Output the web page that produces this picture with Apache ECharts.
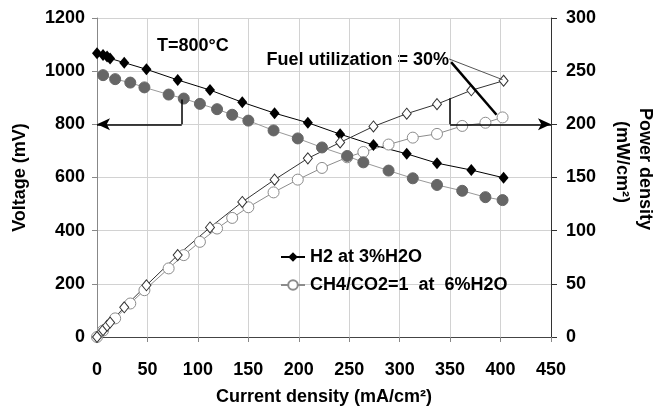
<!DOCTYPE html>
<html><head><meta charset="utf-8">
<script src="https://cdn.jsdelivr.net/npm/echarts@6/dist/echarts.min.js"></script>
<style>html,body{margin:0;padding:0;background:#fff}#c{width:654px;height:408px}</style>
</head><body><div id="c"></div>
<script>
// ---- data ----
const h2Current = [0,6,10,13,27,49,80,112,144,176,209,241,274,307,337,371,403];
const h2Voltage = [1067,1061,1055,1048,1032,1007,967,929,883,842,806,763,722,689,654,628,599];
const h2Power = [0,6.4,10.6,13.6,27.9,48.6,77,103,127,148,168,183,198,210,219,232,241];
const ch4VoltCurrent = [6,18,33,47,71,86,102,119,134,150,175,199,223,248,264,289,313,337,362,385,402];
const ch4Voltage = [985,970,957,939,912,897,877,857,836,814,777,747,713,681,657,626,597,572,550,526,515];
const ch4PowerCurrent = [0,6,18,33,47,71,86,102,119,134,150,175,199,223,248,264,289,313,337,362,385,402];
const ch4Power = [0,6,17.5,31.5,44,64.5,77,89.5,102,112,122,136,148,159,169,174,181,187.5,191,198.5,201.5,206.5];
const xTicks = [0,50,100,150,200,250,300,350,400,450];
const voltTicks = [0,200,400,600,800,1000,1200];
const powerTicks = [0,50,100,150,200,250,300];
const h2Name = 'H2 at 3%H2O';
const ch4Name = 'CH4/CO2=1  at  6%H2O';
// annotation anchors (data space)
const leftArrow = [[84,893],[84,800],[0,800]];        // current, voltage
const rightArrow = [[350,224.5],[350,200],[450,200]]; // current, power
const pointerThin = [[349,261.5],[402,242]];
const pointerThick = [[351,258.5],[396,209]];

const zip = (a,b) => a.map((v,i)=>[v,b[i]]);
const FONT = "'Liberation Sans', Arial, sans-serif";
const FS = 18;
const txt = {fontFamily:FONT, fontWeight:'bold', fontSize:FS, color:'#000'};
const plain = v => String(v);

const chart = echarts.init(document.getElementById('c'), null, {renderer:'canvas'});
chart.setOption({
  animation:false,
  backgroundColor:'#fff',
  grid:{left:97, right:103, top:18, bottom:71, containLabel:false, outerBoundsMode:'none'},
  legend:{
    orient:'vertical', left:275, top:243, itemWidth:24, itemHeight:12, itemGap:10,
    textStyle:Object.assign({}, txt),
    data:[ {name:h2Name}, {name:ch4Name} ]
  },
  xAxis:{
    type:'value', min:xTicks[0], max:xTicks[xTicks.length-1], interval:50,
    name:'Current density (mA/cm²)', nameLocation:'middle', nameGap:51,
    nameTextStyle:txt,
    axisLine:{lineStyle:{color:'#444', width:1}},
    axisTick:{show:true, length:5, lineStyle:{color:'#888'}},
    axisLabel:Object.assign({margin:24, formatter:plain}, txt),
    splitLine:{show:true, lineStyle:{color:'#d2d2d2', width:1}}
  },
  yAxis:[{
    type:'value', min:voltTicks[0], max:voltTicks[voltTicks.length-1], interval:200,
    name:'Voltage (mV)', nameLocation:'middle', nameGap:68, nameRotate:90,
    nameTextStyle:txt,
    axisLine:{show:true, lineStyle:{color:'#888'}},
    axisTick:{show:true, length:5, lineStyle:{color:'#888'}},
    axisLabel:Object.assign({margin:12, formatter:plain}, txt),
    splitLine:{show:true, lineStyle:{color:'#d2d2d2', width:1}}
  },{
    type:'value', min:powerTicks[0], max:powerTicks[powerTicks.length-1], interval:50,
    position:'right',
    axisLine:{show:true, lineStyle:{color:'#333'}},
    axisTick:{show:true, length:6, lineStyle:{color:'#333'}},
    axisLabel:Object.assign({margin:15, formatter:plain}, txt),
    splitLine:{show:false}
  }],
  graphic:[
    {type:'text', left:157, top:37, style:{text:'T=800°C', fill:'#000', font:"bold "+FS+"px "+FONT}},
    {type:'text', right:654-449, top:51, style:{text:'Fuel utilization = 30%', fill:'#000', font:"bold "+FS+"px "+FONT}},
    {type:'text', x:645, y:169, rotation:-Math.PI/2, style:{text:'Power density', fill:'#000', font:"bold "+FS+"px "+FONT, align:'center', verticalAlign:'middle'}},
    {type:'text', x:622, y:162, rotation:-Math.PI/2, style:{text:'(mW/cm²)', fill:'#000', font:"bold "+FS+"px "+FONT, align:'center', verticalAlign:'middle'}}
  ],
  series:[
    {
      name:h2Name, type:'line', yAxisIndex:0, data:zip(h2Current,h2Voltage),
      symbol:'diamond', symbolSize:[10,12], showAllSymbol:true,
      itemStyle:{color:'#000'}, lineStyle:{color:'#000', width:1}
    },
    {
      name:ch4Name, type:'line', yAxisIndex:1, data:zip(ch4PowerCurrent,ch4Power),
      symbol:'circle', symbolSize:11, showAllSymbol:true,
      itemStyle:{color:'#fff', borderColor:'#8c8c8c', borderWidth:1}, lineStyle:{color:'#8c8c8c', width:1}
    },
    {
      name:h2Name, type:'line', yAxisIndex:1, data:zip(h2Current,h2Power),
      symbol:'diamond', symbolSize:[9,11], showAllSymbol:true,
      itemStyle:{color:'#fff', borderColor:'#333', borderWidth:1}, lineStyle:{color:'#333', width:1},
      markLine:{
        silent:true, animation:false, label:{show:false}, symbol:['none','none'],
        lineStyle:{color:'#000', width:1.5, type:'solid'},
        emphasis:{disabled:true},
        data:[
          [{coord:rightArrow[0]},{coord:rightArrow[1]}],
          [{coord:rightArrow[1]},{coord:rightArrow[2], symbol:'arrow', symbolSize:[9,13]}],
          [{coord:pointerThin[0], lineStyle:{color:'#555', width:1}},{coord:pointerThin[1]}],
          [{coord:pointerThick[0], lineStyle:{color:'#000', width:2.5}},{coord:pointerThick[1]}]
        ]
      }
    },
    {
      name:ch4Name, type:'line', yAxisIndex:0, data:zip(ch4VoltCurrent,ch4Voltage),
      symbol:'circle', symbolSize:11, showAllSymbol:true,
      itemStyle:{color:'#666', borderColor:'#666'}, lineStyle:{color:'#999', width:1},
      markLine:{
        silent:true, animation:false, label:{show:false}, symbol:['none','none'],
        lineStyle:{color:'#000', width:1.5, type:'solid'},
        emphasis:{disabled:true},
        data:[
          [{coord:leftArrow[0]},{coord:leftArrow[1]}],
          [{coord:leftArrow[1]},{coord:leftArrow[2], symbol:'arrow', symbolSize:[9,13]}]
        ]
      }
    }
  ]
});
</script></body></html>
